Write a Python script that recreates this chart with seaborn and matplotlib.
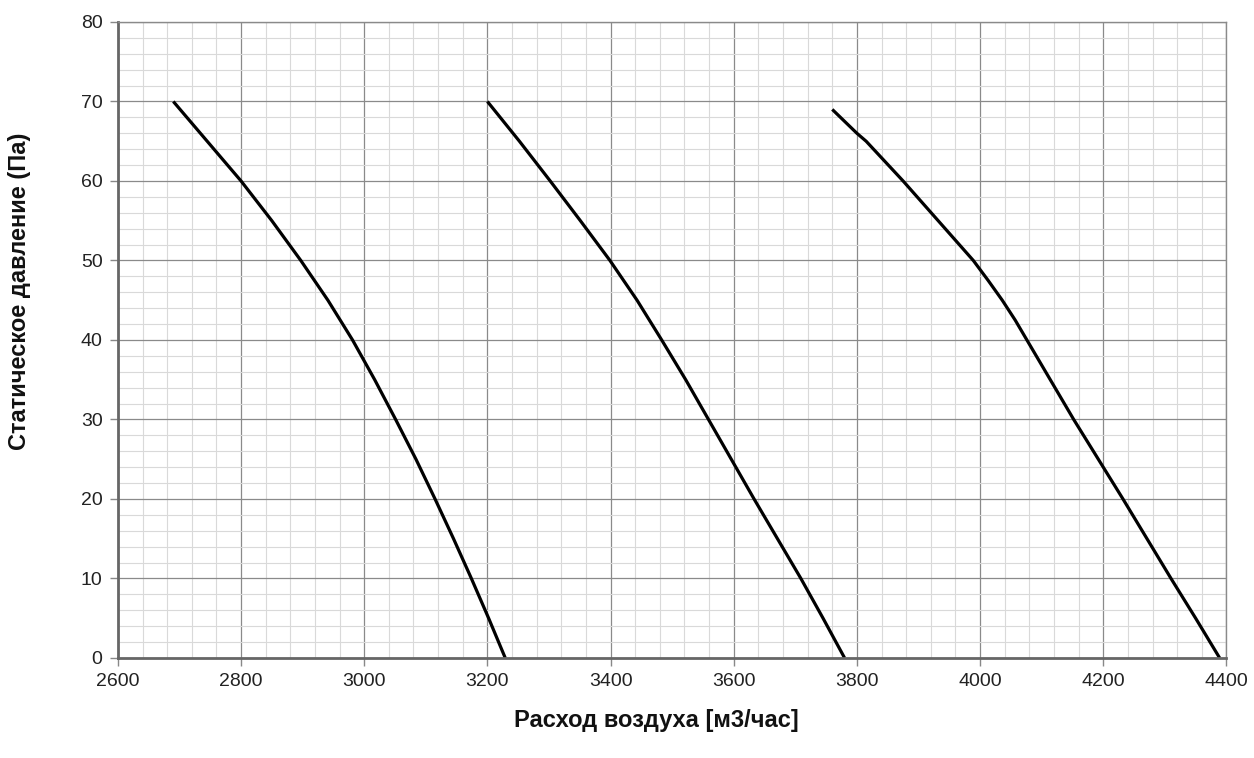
import matplotlib
matplotlib.use("Agg")
import matplotlib.pyplot as plt
import seaborn as sns
import pandas as pd
from matplotlib.ticker import MultipleLocator

# Data
curve1_x = [2690, 2745, 2800, 2850, 2897, 2941, 2981, 3017, 3051, 3084, 3115, 3145, 3174, 3202, 3229]
curve1_y = [70, 65, 60, 55, 50, 45, 40, 35, 30, 25, 20, 15, 10, 5, 0]

curve2_x = [3200, 3252, 3302, 3351, 3399, 3443, 3483, 3522, 3559, 3596, 3633, 3671, 3709, 3745, 3780]
curve2_y = [70, 65, 60, 55, 50, 45, 40, 35, 30, 25, 20, 15, 10, 5, 0]

curve3_x = [3760, 3800, 3815, 3875, 3932, 3989, 4013, 4036, 4057, 4076, 4114, 4152, 4192, 4232, 4271, 4310, 4350, 4389]
curve3_y = [69, 66, 65, 60, 55, 50, 47.5, 45, 42.5, 40, 35, 30, 25, 20, 15, 10, 5, 0]

x_ticks = [2600, 2800, 3000, 3200, 3400, 3600, 3800, 4000, 4200, 4400]
y_ticks = [0, 10, 20, 30, 40, 50, 60, 70, 80]

x_label = "Расход воздуха [м3/час]"
y_label = "Статическое давление (Па)"

sns.set_theme(style="white")
plt.rcParams['font.family'] = ['Liberation Sans', 'DejaVu Sans']

fig = plt.figure(figsize=(12.54, 7.58), dpi=100)
ax = fig.add_axes([0.094, 0.132, 0.884, 0.839])

frames = []
for name, xs, ys in [("c1", curve1_x, curve1_y), ("c2", curve2_x, curve2_y), ("c3", curve3_x, curve3_y)]:
    frames.append(pd.DataFrame({"x": xs, "y": ys, "curve": name}))
df = pd.concat(frames, ignore_index=True)

for name, sub in df.groupby("curve"):
    sns.lineplot(data=sub, x="x", y="y", ax=ax, color="black", linewidth=2.3,
                 sort=False, estimator=None, legend=False)
for ln in ax.lines:
    ln.set_solid_joinstyle("round")
    ln.set_solid_capstyle("butt")

ax.set_xlim(2600, 4400)
ax.set_ylim(0, 80)
ax.set_xticks(x_ticks)
ax.set_yticks(y_ticks)
ax.xaxis.set_minor_locator(MultipleLocator(40))
ax.yaxis.set_minor_locator(MultipleLocator(2))
ax.grid(which="major", color="#8a8a8a", linewidth=0.9)
ax.grid(which="minor", color="#d9d9d9", linewidth=0.8)
ax.set_axisbelow(True)

for side in ["top", "right"]:
    ax.spines[side].set_color("#8a8a8a")
    ax.spines[side].set_linewidth(1.0)
for side in ["left", "bottom"]:
    ax.spines[side].set_color("#666666")
    ax.spines[side].set_linewidth(2.0)

ax.tick_params(axis="both", which="major", direction="out", length=6, width=1,
               color="#888888", labelsize=14, labelcolor="#222222", pad=5,
               bottom=True, left=True)
ax.tick_params(axis="both", which="minor", length=0)

ax.set_xlabel(x_label, fontsize=17, fontweight="bold", color="#111111")
ax.set_ylabel(y_label, fontsize=17, fontweight="bold", color="#111111")
ax.xaxis.set_label_coords(0.486, -0.080)
ax.yaxis.set_label_coords(-0.0785, 0.577)

fig.savefig("out.png", dpi=100, facecolor="white")
